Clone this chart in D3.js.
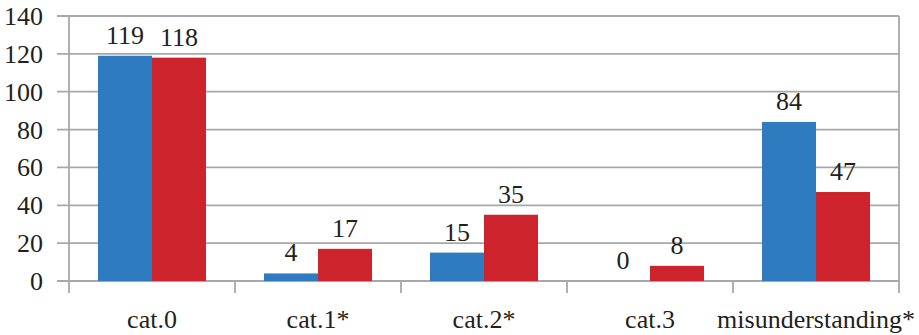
<!DOCTYPE html>
<html>
<head>
<meta charset="utf-8">
<script src="https://cdn.jsdelivr.net/npm/d3@7"></script>
<style>
  body { margin: 0; background: #fff; }
</style>
</head>
<body>
<div id="chart"></div>
<script>
// data
let categories = ["cat.0", "cat.1*", "cat.2*", "cat.3", "misunderstanding*"];
let seriesA = [119, 4, 15, 0, 84];
let seriesB = [118, 17, 35, 8, 47];
let yTicks = [0, 20, 40, 60, 80, 100, 120, 140];

let width = 919, height = 335;
let margin = {top: 16, right: 20, bottom: 54, left: 69};
let innerW = 899 - margin.left;
let innerH = 281 - margin.top;
let font = "Liberation Serif";

let svg = d3.select("#chart").append("svg")
  .attr("width", width)
  .attr("height", height);

let g = svg.append("g")
  .attr("transform", `translate(${margin.left},${margin.top})`);

let x = d3.scaleBand().domain(categories).range([0, innerW]).paddingInner(0).paddingOuter(0);
let x1 = d3.scaleBand().domain(["a", "b"]).range([29, x.bandwidth() - 29]);
let y = d3.scaleLinear().domain([0, 140]).range([innerH, 0]);

let gridColor = "#a7a8ab";

// horizontal grid + left ticks
g.selectAll(".hgrid").data(yTicks).enter().append("line")
  .attr("x1", -12).attr("x2", innerW)
  .attr("y1", d => y(d)).attr("y2", d => y(d))
  .attr("stroke", gridColor).attr("stroke-width", 1.8);

// left axis line, right border
g.append("line").attr("x1", 0).attr("x2", 0).attr("y1", 0).attr("y2", innerH + 12)
  .attr("stroke", gridColor).attr("stroke-width", 1.8);
g.append("line").attr("x1", innerW).attr("x2", innerW).attr("y1", 0).attr("y2", innerH + 12)
  .attr("stroke", gridColor).attr("stroke-width", 1.8);

// category separator ticks
g.selectAll(".sep").data(categories.slice(1)).enter().append("line")
  .attr("x1", d => x(d)).attr("x2", d => x(d))
  .attr("y1", innerH).attr("y2", innerH + 12)
  .attr("stroke", gridColor).attr("stroke-width", 1.8);

function label(sel) {
  return sel.attr("font-family", font)
    .attr("font-size", 26)
    .attr("fill", "#231f20");
}

// y labels
g.selectAll(".ylab").data(yTicks).enter().append("text")
  .attr("x", -26).attr("y", d => y(d) + 9)
  .attr("text-anchor", "end")
  .call(label)
  .text(d => d);

// bars
let rows = categories.map((c, i) => ({c: c, a: seriesA[i], b: seriesB[i]}));
let groups = g.selectAll(".grp").data(rows).enter().append("g")
  .attr("transform", d => `translate(${x(d.c)},0)`);

groups.append("rect")
  .attr("x", x1("a")).attr("width", x1.bandwidth())
  .attr("y", d => y(d.a)).attr("height", d => innerH - y(d.a))
  .attr("fill", "#2e7bbf");
groups.append("rect")
  .attr("x", x1("b")).attr("width", x1.bandwidth())
  .attr("y", d => y(d.b)).attr("height", d => innerH - y(d.b))
  .attr("fill", "#cc232c");

// value labels
groups.append("text")
  .attr("x", x1("a") + x1.bandwidth() / 2)
  .attr("y", d => y(d.a) - 12)
  .attr("text-anchor", "middle")
  .call(label)
  .text(d => d.a);
groups.append("text")
  .attr("x", x1("b") + x1.bandwidth() / 2)
  .attr("y", d => y(d.b) - 12)
  .attr("text-anchor", "middle")
  .call(label)
  .text(d => d.b);

// x labels
g.selectAll(".xlab").data(categories).enter().append("text")
  .attr("x", d => x(d) + x.bandwidth() / 2)
  .attr("y", innerH + 47)
  .attr("text-anchor", "middle")
  .call(label)
  .text(d => d);
</script>
</body>
</html>
